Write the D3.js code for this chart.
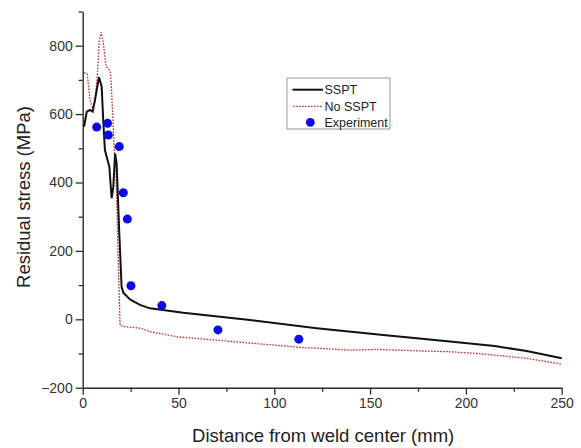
<!DOCTYPE html>
<html>
<head>
<meta charset="utf-8">
<script src="https://cdn.jsdelivr.net/npm/d3@7"></script>
<style>
  html, body { margin: 0; padding: 0; background: #fff; }
  svg { display: block; font-family: "Liberation Sans", Arial, sans-serif; }
</style>
</head>
<body>
<svg id="chart" width="581" height="448"></svg>
<script>
// ---- data ----
const ssptX = [0.7, 2.1, 3.8, 5.2, 6.4, 8.5, 9.9, 10.8, 11.6, 12.5, 13.9, 15.1, 16.0, 16.9, 17.7, 19.1, 20.3, 21.2, 24.7, 29.9, 35.1, 52.5, 87.3, 122.1, 156.9, 191.7, 215, 231.7, 250];
const ssptY = [563, 607, 612, 607, 641, 708, 680, 573, 495, 475, 446, 354, 388, 485, 456, 251, 95, 78, 58, 42, 32, 19, -2, -26, -46, -65, -78, -93, -114];

const noSsptX = [0.7, 2.4, 3.8, 5.2, 6.4, 7.6, 8.7, 9.6, 10.8, 12.2, 13.4, 14.6, 15.7, 16.6, 17.2, 18.2, 19.5, 21.2, 29.9, 35.1, 49, 69.9, 113.4, 139.5, 153.4, 174.3, 191.7, 205.6, 231.7, 250];
const noSsptY = [721, 717, 641, 617, 641, 709, 817, 839, 807, 739, 734, 719, 592, 480, 470, 250, -17, -21, -26, -36, -51, -61, -82, -90, -88, -92, -95, -100, -114, -131];

const expX = [7.3, 13.0, 13.4, 19.1, 21.2, 23.3, 25.2, 41.3, 70.6, 112.8];
const expY = [562, 573, 539, 505, 370, 293, 98, 40, -31, -58];

const xTicks = [0, 50, 100, 150, 200, 250];
const xMinor = [25, 75, 125, 175, 225];
const yTicks = [-200, 0, 200, 400, 600, 800];
const yMinor = [-100, 100, 300, 500, 700, 900];

const seriesNames = ["SSPT", "No SSPT", "Experiment"];
const xTitle = "Distance from weld center (mm)";
const yTitle = "Residual stress (MPa)";

// ---- chart ----
const svg = d3.select("#chart");
const x = d3.scaleLinear().domain([0, 250]).range([82.7, 561.7]);
const y = d3.scaleLinear().domain([-200, 900]).range([387.7, 11.5]);
const axisColor = "#2a2a2a";

// minor ticks
svg.append("g").attr("transform", `translate(0,${y(-200)})`)
  .call(d3.axisBottom(x).tickValues(xMinor).tickSize(4).tickFormat(""))
  .call(g => g.select(".domain").remove())
  .call(g => g.selectAll("line").attr("stroke", axisColor).attr("stroke-width", 1.3));
svg.append("g").attr("transform", `translate(${x(0)},0)`)
  .call(d3.axisLeft(y).tickValues(yMinor).tickSize(4).tickFormat(""))
  .call(g => g.select(".domain").remove())
  .call(g => g.selectAll("line").attr("stroke", axisColor).attr("stroke-width", 1.3));

// major axes
const xAxis = svg.append("g").attr("transform", `translate(0,${y(-200)})`)
  .call(d3.axisBottom(x).tickValues(xTicks).tickSize(7).tickSizeOuter(0).tickPadding(3));
const yAxis = svg.append("g").attr("transform", `translate(${x(0)},0)`)
  .call(d3.axisLeft(y).tickValues(yTicks).tickSize(7).tickSizeOuter(0).tickPadding(3));
[xAxis, yAxis].forEach(g => {
  g.select(".domain").attr("stroke", axisColor).attr("stroke-width", 1.4);
  g.selectAll(".tick line").attr("stroke", axisColor).attr("stroke-width", 1.3);
  g.selectAll(".tick text").attr("fill", "#333").style("font-size", "14px")
    .style("font-family", '"Liberation Sans", Arial, sans-serif');
});

// axis titles
svg.append("text").attr("x", (x(0) + x(250)) / 2 + 1).attr("y", 441.5)
  .attr("text-anchor", "middle").attr("fill", "#222").style("font-size", "18.5px").text(xTitle);
svg.append("text").attr("transform", `translate(30,197) rotate(-90)`)
  .attr("text-anchor", "middle").attr("fill", "#222").style("font-size", "18.5px").text(yTitle);

// lines
const line = d3.line().x(d => x(d[0])).y(d => y(d[1]));
const noSsptData = noSsptX.map((v, i) => [v, noSsptY[i]]);
const ssptData = ssptX.map((v, i) => [v, ssptY[i]]);

svg.append("path").datum(noSsptData).attr("d", line)
  .attr("fill", "none").attr("stroke", "#b8322e").attr("stroke-width", 1.3)
  .attr("stroke-dasharray", "1.6,1.4");
svg.append("path").datum(ssptData).attr("d", line)
  .attr("fill", "none").attr("stroke", "#111").attr("stroke-width", 2);

// experiment points
svg.append("g").selectAll("circle").data(expX.map((v, i) => [v, expY[i]])).join("circle")
  .attr("cx", d => x(d[0])).attr("cy", d => y(d[1])).attr("r", 4.5).attr("fill", "#0a0ae6");

// legend
const lg = svg.append("g");
lg.append("rect").attr("x", 287).attr("y", 78).attr("width", 103).attr("height", 51)
  .attr("fill", "#fff").attr("stroke", "#999").attr("stroke-width", 1);
lg.append("line").attr("x1", 292.5).attr("x2", 323).attr("y1", 89.7).attr("y2", 89.7)
  .attr("stroke", "#111").attr("stroke-width", 2);
lg.append("line").attr("x1", 293).attr("x2", 322).attr("y1", 106.3).attr("y2", 106.3)
  .attr("stroke", "#b8322e").attr("stroke-width", 1.3).attr("stroke-dasharray", "1.6,1.4");
lg.append("circle").attr("cx", 310.3).attr("cy", 122.3).attr("r", 4.4).attr("fill", "#0a0ae6");
const lgY = [94, 111, 127];
lg.selectAll("text").data(seriesNames).join("text")
  .attr("x", 324.5).attr("y", (d, i) => lgY[i]).attr("fill", "#222")
  .style("font-size", "12.5px").text(d => d);
</script>
</body>
</html>
